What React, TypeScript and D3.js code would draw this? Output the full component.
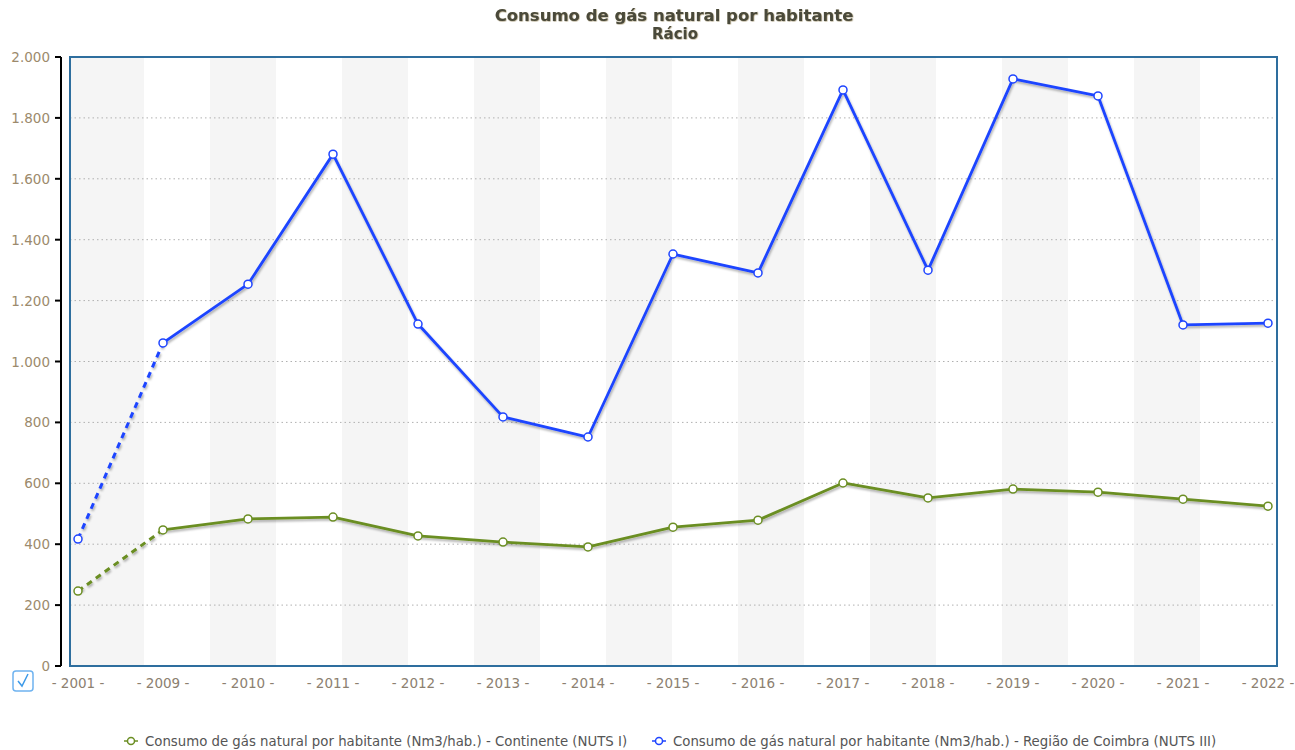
import React from "react";
import * as d3 from "d3";

const years = ["2001", "2009", "2010", "2011", "2012", "2013", "2014", "2015", "2016", "2017", "2018", "2019", "2020", "2021", "2022"];
const continente = [246, 447, 483, 489, 427, 407, 391, 456, 479, 601, 552, 581, 571, 548, 525];
const coimbra = [417, 1061, 1254, 1681, 1123, 818, 752, 1353, 1291, 1892, 1300, 1928, 1872, 1120, 1126];
const yTicks = [0, 200, 400, 600, 800, 1000, 1200, 1400, 1600, 1800, 2000];
const seriesNames = [
  "Consumo de gás natural por habitante (Nm3/hab.) - Continente (NUTS I)",
  "Consumo de gás natural por habitante (Nm3/hab.) - Região de Coimbra (NUTS III)",
];
const colors = ["#6b8e23", "#1f45ff"];

const W = 1295, H = 750;
const plot = { left: 70, right: 1277, top: 57, bottom: 666 };

export default function App() {
  const x = d3.scalePoint<string>().domain(years).range([78, 1268]);
  const y = d3.scaleLinear().domain([0, 2000]).range([plot.bottom, plot.top]);
  const fmt = (v: number) => d3.format(",")(v).replace(/,/g, ".");
  const line = d3.line<number>().x((_, i) => x(years[i])!).y((d) => y(d));

  const stripes: { x0: number; x1: number; gray: boolean }[] = [];
  stripes.push({ x0: plot.left, x1: 144, gray: true });
  let s = 144, g = false;
  for (let k = 0; k < 17; k++) {
    const e = k === 16 ? plot.right : s + 66;
    stripes.push({ x0: s, x1: e, gray: g });
    s += 66; g = !g;
  }

  const series = [continente, coimbra];
  const font = "Verdana, 'DejaVu Sans', sans-serif";

  return (
    <svg width={W} height={H} style={{ position: "absolute", left: 0, top: 0, fontFamily: font }}>
      <defs>
        <filter id="sh" x="-5%" y="-5%" width="110%" height="120%">
          <feDropShadow dx="1" dy="2" stdDeviation="1.2" floodColor="#000" floodOpacity="0.3" />
        </filter>
        <filter id="tsh">
          <feDropShadow dx="0.5" dy="0.5" stdDeviation="0.4" floodColor="#8a7a50" floodOpacity="0.8" />
        </filter>
      </defs>
      <rect width={W} height={H} fill="#fff" />
      <text x={674} y={21} textAnchor="middle" fontSize={16.5} fontWeight="bold" fill="#4a4a3a" filter="url(#tsh)">
        Consumo de gás natural por habitante
      </text>
      <text x={675} y={39} textAnchor="middle" fontSize={15} fontWeight="bold" fill="#4a4a3a" filter="url(#tsh)">
        Rácio
      </text>
      {stripes.map((st, i) => (
        <rect key={i} x={st.x0} y={plot.top} width={st.x1 - st.x0} height={plot.bottom - plot.top} fill={st.gray ? "#f5f5f5" : "#fff"} />
      ))}
      {yTicks.filter((t) => t > 0 && t < 2000).map((t) => (
        <line key={t} x1={plot.left} x2={plot.right} y1={y(t)} y2={y(t)} stroke="#b0b0b0" strokeDasharray="1.5,3" />
      ))}
      <rect x={plot.left} y={plot.top} width={plot.right - plot.left} height={plot.bottom - plot.top} fill="none" stroke="#2e6e9e" strokeWidth={2} />
      <line x1={61} x2={61} y1={plot.top} y2={plot.bottom} stroke="#000" strokeWidth={2} />
      {yTicks.map((t) => (
        <g key={t}>
          <line x1={55} x2={61} y1={y(t)} y2={y(t)} stroke="#000" strokeWidth={2} />
          <text x={50} y={y(t) + 5} textAnchor="end" fontSize={13.5} fill="#9c8a6c">{fmt(t)}</text>
        </g>
      ))}
      {years.map((yr) => (
        <text key={yr} x={x(yr)!} y={688} textAnchor="middle" fontSize={13.5} fill="#8c8070">{`- ${yr} -`}</text>
      ))}
      {series.map((vals, si) => (
        <g key={si} filter="url(#sh)">
          <path d={line(vals.slice(0, 2))!} fill="none" stroke={colors[si]} strokeWidth={3} strokeDasharray="6,5" />
          <path d={d3.line<number>().x((_, i) => x(years[i + 1])!).y((d) => y(d))(vals.slice(1))!} fill="none" stroke={colors[si]} strokeWidth={2.8} strokeLinejoin="round" />
        </g>
      ))}
      {series.map((vals, si) => (
        <g key={"m" + si}>
          {vals.map((v, i) => (
            <circle key={i} cx={x(years[i])!} cy={y(v)} r={4} fill="#fff" stroke={colors[si]} strokeWidth={1.5} />
          ))}
        </g>
      ))}
      <g transform="translate(13,671)">
        <rect x={0} y={0} width={20} height={20} rx={3} fill="#fff" stroke="#6fb3f0" strokeWidth={1.5} />
        <path d="M5,10 L9,15 L15,3" fill="none" stroke="#3d9ae8" strokeWidth={1.5} />
      </g>
      {[124, 652].map((lx, i) => (
        <g key={i} transform={`translate(${lx},741)`}>
          <line x1={0} x2={14} y1={0} y2={0} stroke={colors[i]} strokeWidth={1.5} />
          <circle cx={7} cy={0} r={3.5} fill="#fff" stroke={colors[i]} strokeWidth={1.5} />
          <text x={21} y={5} fontSize={13.3} fill="#555">{seriesNames[i]}</text>
        </g>
      ))}
    </svg>
  );
}
